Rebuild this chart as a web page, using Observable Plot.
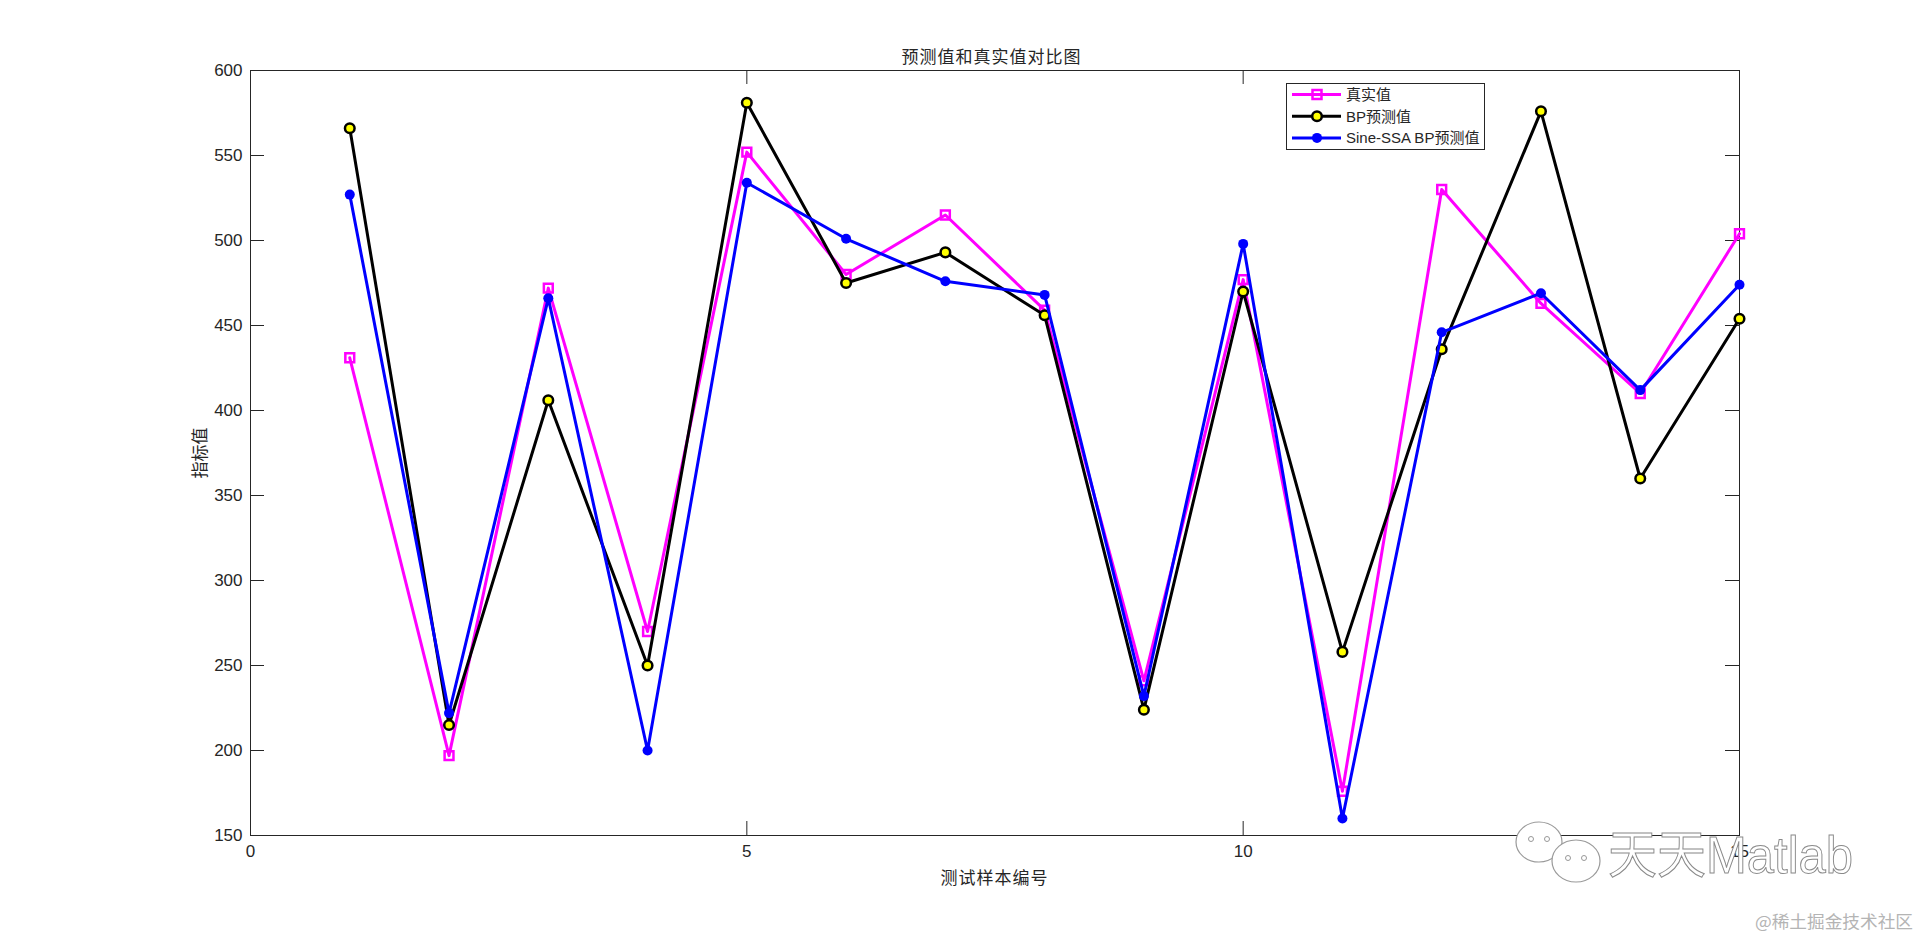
<!DOCTYPE html>
<html>
<head>
<meta charset="utf-8">
<script src="https://cdn.jsdelivr.net/npm/d3@7"></script>
<script src="https://cdn.jsdelivr.net/npm/@observablehq/plot@0.6"></script>
<style>
  html, body { margin: 0; padding: 0; background: #fff; }
  #chart svg { display: block; }
</style>
</head>
<body>
<div id="chart"></div>
<script>
// ---- data ----
const samples = [1, 2, 3, 4, 5, 6, 7, 8, 9, 10, 11, 12, 13, 14, 15];
const trueVals = [431, 197, 472, 270, 552, 480, 515, 459, 241, 477, 176, 530, 463, 410, 504];
const bpVals   = [566, 215, 406, 250, 581, 475, 493, 456, 224, 470, 258, 436, 576, 360, 454];
const ssaVals  = [527, 222, 466, 200, 534, 501, 476, 468, 232, 498, 160, 446, 469, 412, 474];
const seriesNames = ["真实值", "BP预测值", "Sine-SSA BP预测值"];
const xTicks = [0, 5, 10, 15];
const yTicks = [150, 200, 250, 300, 350, 400, 450, 500, 550, 600];
const titleText = "预测值和真实值对比图";
const xLabelText = "测试样本编号";
const yLabelText = "指标值";

// ---- layout ----
const W = 1920, H = 937;
const mL = 250, mR = 181, mT = 70, mB = 102;
const pw = W - mL - mR, ph = H - mT - mB;
const TL = 14; // inner tick length
const axisColor = "#262626";
const cjk = "'Noto Sans CJK SC', sans-serif";
const latin = "'Liberation Sans', Arial, 'Noto Sans CJK SC', sans-serif";

const rows = (vals) => samples.map((s, i) => ({x: s, y: vals[i]}));
const dTrue = rows(trueVals), dBP = rows(bpVals), dSSA = rows(ssaVals);

const chart = Plot.plot({
  width: W, height: H,
  marginLeft: mL, marginRight: mR, marginTop: mT, marginBottom: mB,
  x: {domain: [0, 15]},
  y: {domain: [150, 600]},
  style: {fontFamily: latin, fontSize: "17px", color: axisColor, background: "#fff"},
  marks: [
    Plot.frame({stroke: axisColor, strokeWidth: 1}),
    // inward ticks on all four sides
    Plot.tickY(yTicks, {y: d => d, insetRight: pw - TL, stroke: axisColor}),
    Plot.tickY(yTicks, {y: d => d, insetLeft: pw - TL, stroke: axisColor}),
    Plot.tickX(xTicks, {x: d => d, insetTop: ph - TL, stroke: axisColor}),
    Plot.tickX(xTicks, {x: d => d, insetBottom: ph - TL, stroke: axisColor}),
    Plot.axisX({ticks: xTicks, tickSize: 0, tickPadding: 9, label: null, fill: axisColor}),
    Plot.axisY({ticks: yTicks, tickSize: 0, tickPadding: 8, label: null, fill: axisColor}),
    // series 1: true values
    Plot.line(dTrue, {x: "x", y: "y", stroke: "#ff00ff", strokeWidth: 3}),
    Plot.dot(dTrue, {x: "x", y: "y", symbol: "square", r: 5, stroke: "#ff00ff", strokeWidth: 2.5, fill: "none"}),
    // series 2: BP
    Plot.line(dBP, {x: "x", y: "y", stroke: "#000", strokeWidth: 3}),
    Plot.dot(dBP, {x: "x", y: "y", r: 4.8, stroke: "#000", strokeWidth: 2.5, fill: "#ffff00"}),
    // series 3: Sine-SSA BP
    Plot.line(dSSA, {x: "x", y: "y", stroke: "#0000ff", strokeWidth: 3}),
    Plot.dot(dSSA, {x: "x", y: "y", r: 5, fill: "#0000ff", stroke: "none"})
  ]
});
document.getElementById("chart").append(chart);

const svg = d3.select(chart);

// title & labels
svg.append("text").attr("x", mL + pw / 2 - 3).attr("y", 55).attr("text-anchor", "middle")
  .attr("dominant-baseline", "central").style("font-family", cjk).style("font-size", "17px")
  .style("letter-spacing", "1px").attr("fill", axisColor).text(titleText);
svg.append("text").attr("x", mL + pw / 2).attr("y", 876).attr("text-anchor", "middle")
  .attr("dominant-baseline", "central").style("font-family", cjk).style("font-size", "17px")
  .style("letter-spacing", "1px").attr("fill", axisColor).text(xLabelText);
svg.append("text").attr("transform", "translate(198,453) rotate(-90)").attr("text-anchor", "middle")
  .attr("dominant-baseline", "central").style("font-family", cjk).style("font-size", "17px")
  .attr("fill", axisColor).text(yLabelText);

// legend
const lg = svg.append("g");
lg.append("rect").attr("x", 1286.5).attr("y", 83.5).attr("width", 198).attr("height", 66)
  .attr("fill", "#fff").attr("stroke", axisColor).attr("stroke-width", 1);
const legendRows = [
  {name: seriesNames[0], color: "#ff00ff", kind: "square"},
  {name: seriesNames[1], color: "#000", kind: "circle"},
  {name: seriesNames[2], color: "#0000ff", kind: "dot"}
];
legendRows.forEach((r, i) => {
  const cy = 94.5 + i * 21.7;
  lg.append("line").attr("x1", 1292).attr("x2", 1341).attr("y1", cy).attr("y2", cy)
    .attr("stroke", r.color).attr("stroke-width", 3);
  if (r.kind === "square") {
    lg.append("rect").attr("x", 1317 - 4.5).attr("y", cy - 4.5).attr("width", 9).attr("height", 9)
      .attr("fill", "none").attr("stroke", r.color).attr("stroke-width", 2.5);
  } else if (r.kind === "circle") {
    lg.append("circle").attr("cx", 1317).attr("cy", cy).attr("r", 4.8)
      .attr("fill", "#ffff00").attr("stroke", "#000").attr("stroke-width", 2.5);
  } else {
    lg.append("circle").attr("cx", 1317).attr("cy", cy).attr("r", 5).attr("fill", r.color);
  }
  lg.append("text").attr("x", 1346).attr("y", cy).attr("text-anchor", "start").attr("dominant-baseline", "central")
    .style("font-family", latin).style("font-size", "15px").attr("fill", axisColor).text(r.name);
});

// watermark
const wm = svg.append("g");
const bubble = (cx, cy, rx, ry) => {
  wm.append("ellipse").attr("cx", cx).attr("cy", cy).attr("rx", rx).attr("ry", ry)
    .attr("fill", "#fff").attr("stroke", "#9a9a9a").attr("stroke-width", 1.2);
  wm.append("circle").attr("cx", cx - 8).attr("cy", cy - 3).attr("r", 2.5).attr("fill", "#fff").attr("stroke", "#999");
  wm.append("circle").attr("cx", cx + 8).attr("cy", cy - 3).attr("r", 2.5).attr("fill", "#fff").attr("stroke", "#999");
};
bubble(1539, 842, 23, 20);
bubble(1576, 861, 24, 21);
wm.append("text").attr("x", 1608).attr("y", 873).attr("text-anchor", "start")
  .attr("textLength", 245).attr("lengthAdjust", "spacingAndGlyphs")
  .style("font-family", latin).style("font-size", "52px").attr("fill", "#fff")
  .attr("stroke", "#8a8a8a").attr("stroke-width", 1).text("天天Matlab");
wm.append("text").attr("x", 1755).attr("y", 928).attr("text-anchor", "start")
  .attr("textLength", 158).attr("lengthAdjust", "spacingAndGlyphs")
  .style("font-family", cjk).style("font-size", "17px").attr("fill", "#b4b4b4").text("@稀土掘金技术社区");
</script>
</body>
</html>
